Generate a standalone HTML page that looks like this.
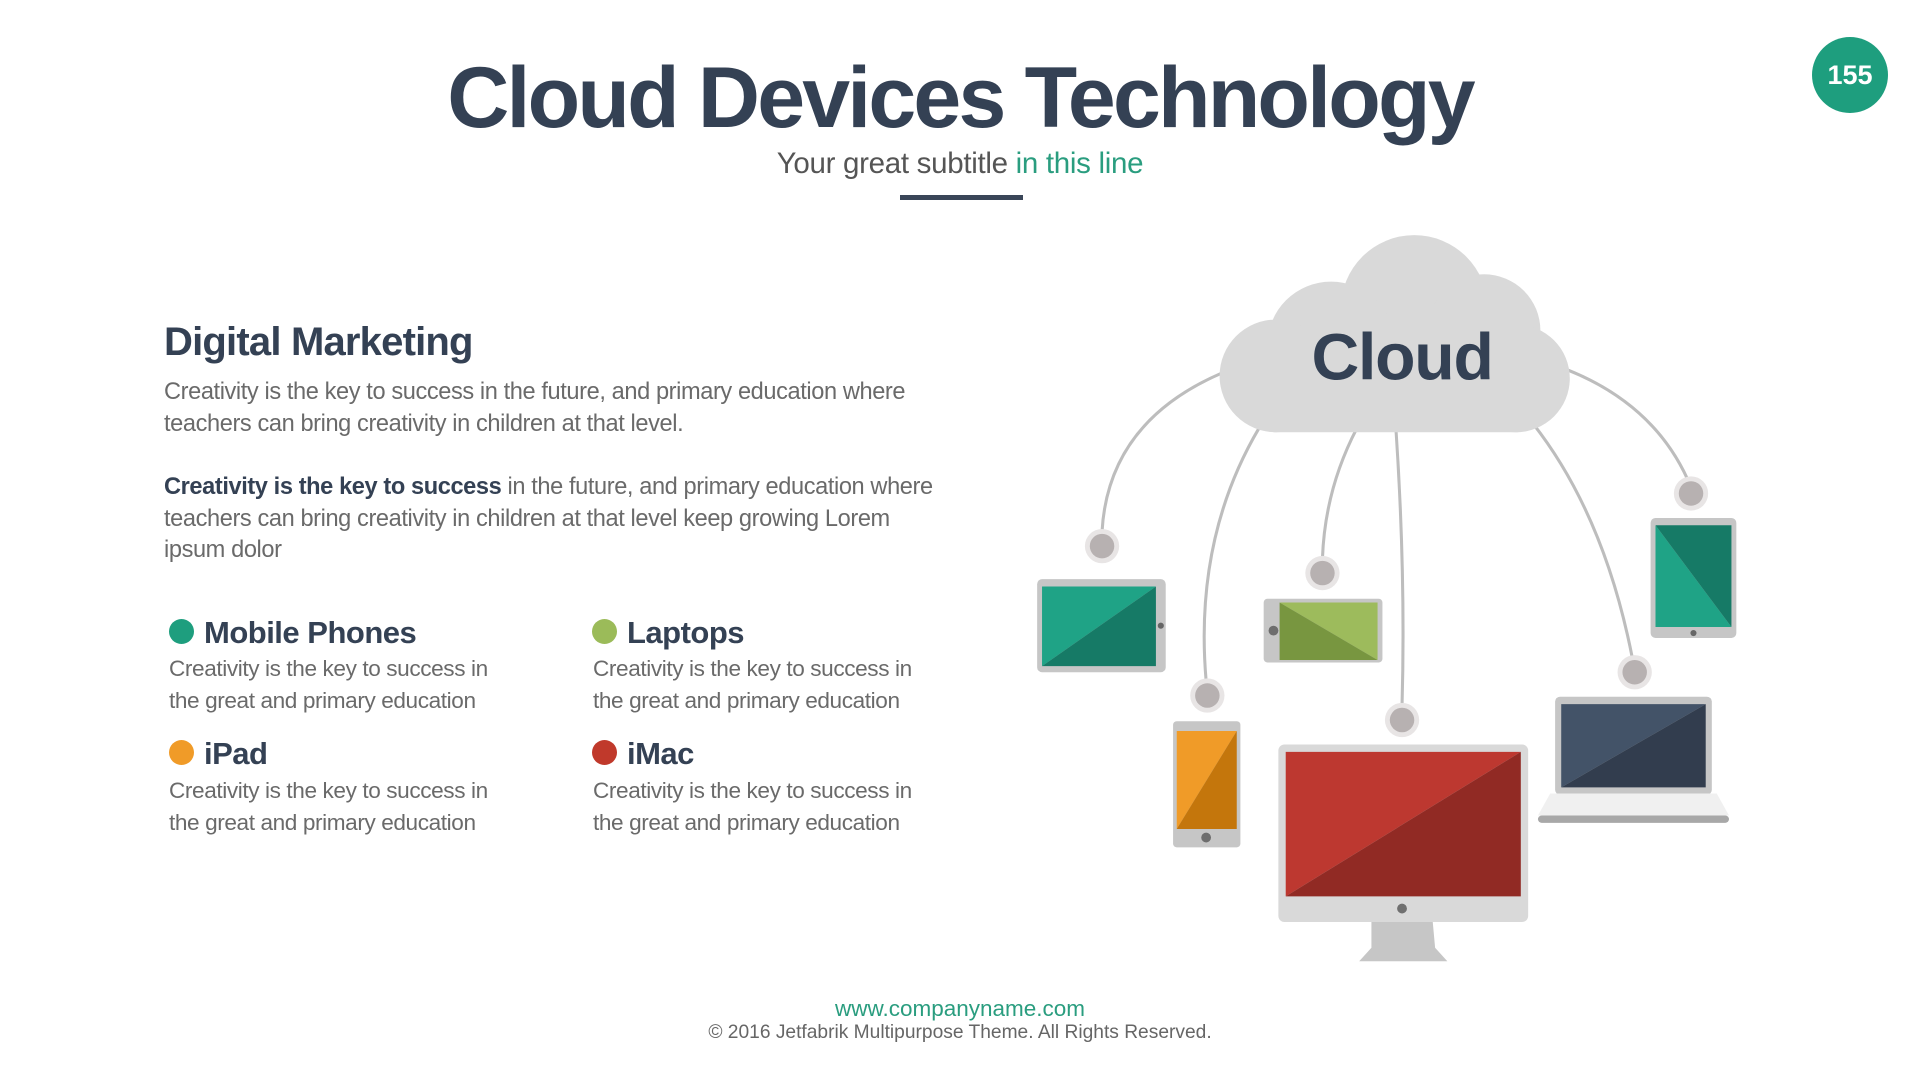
<!DOCTYPE html>
<html><head><meta charset="utf-8"><style>
html,body{margin:0;padding:0;background:#fff;}
body{width:1920px;height:1080px;position:relative;overflow:hidden;font-family:"Liberation Sans",sans-serif;}
.a{position:absolute;white-space:nowrap;}
.t{color:#6a6a6a;font-size:22.6px;line-height:31.5px;letter-spacing:-0.4px;}
.h{color:#344154;font-weight:bold;font-size:31px;letter-spacing:-0.5px;}
.dot{position:absolute;width:25px;height:25px;border-radius:50%;}
</style></head><body>
<div class="a" style="left:0;width:1920px;top:48px;text-align:center;font-size:86px;font-weight:bold;color:#344154;letter-spacing:-2.8px;line-height:100px;">Cloud Devices Technology</div>
<div class="a" style="left:0;width:1920px;top:146px;text-align:center;font-size:29.5px;color:#555;line-height:36px;letter-spacing:-0.3px;">Your great subtitle <span style="color:#2a9d7f">in this line</span></div>
<div class="a" style="left:900px;top:195px;width:123px;height:5px;background:#3a4658;"></div>
<div class="a" style="left:1812px;top:37px;width:76px;height:76px;border-radius:50%;background:#1e9e7e;color:#fff;font-weight:bold;font-size:27px;line-height:76px;text-align:center;">155</div>

<div class="a" style="left:164px;top:319px;font-size:40px;font-weight:bold;color:#344154;letter-spacing:-0.8px;line-height:46px;">Digital Marketing</div>
<div class="a t" style="left:164px;top:377px;font-size:23.6px;line-height:31.5px;">Creativity is the key to success in the future, and primary education where<br>teachers can bring creativity in children at that level.</div>
<div class="a t" style="left:164px;top:472px;font-size:23.6px;line-height:31.5px;"><b style="color:#344154">Creativity is the key to success</b> in the future, and primary education where<br>teachers can bring creativity in children at that level keep growing Lorem<br>ipsum dolor</div>

<div class="dot" style="left:169px;top:619px;background:#1e9e7e"></div>
<div class="a h" style="left:204px;top:615px;">Mobile Phones</div>
<div class="a t" style="left:169px;top:653px;">Creativity is the key to success in<br>the great and primary education</div>
<div class="dot" style="left:592px;top:619px;background:#9bbb59"></div>
<div class="a h" style="left:627px;top:615px;">Laptops</div>
<div class="a t" style="left:593px;top:653px;">Creativity is the key to success in<br>the great and primary education</div>
<div class="dot" style="left:169px;top:740px;background:#f09b28"></div>
<div class="a h" style="left:204px;top:736px;">iPad</div>
<div class="a t" style="left:169px;top:775px;">Creativity is the key to success in<br>the great and primary education</div>
<div class="dot" style="left:592px;top:740px;background:#c0392b"></div>
<div class="a h" style="left:627px;top:736px;">iMac</div>
<div class="a t" style="left:593px;top:775px;">Creativity is the key to success in<br>the great and primary education</div>

<div class="a" style="left:0;width:1920px;top:996px;text-align:center;font-size:22.5px;color:#2a9d7f;line-height:26px;">www.companyname.com</div>
<div class="a" style="left:0;width:1920px;top:1021px;text-align:center;font-size:19.2px;color:#666;line-height:24px;">© 2016 Jetfabrik Multipurpose Theme. All Rights Reserved.</div>

<svg class="a" style="left:0;top:0" width="1920" height="1080" viewBox="0 0 1568 882">
<g fill="none" stroke="#bdbdbd" stroke-width="2.5">
<path d="M997,305 Q905,345 900,434"/>
<path d="M1028,350 Q975,440 985,556"/>
<path d="M1108,350 Q1082,400 1080,456"/>
<path d="M1140,350 Q1148,470 1145,576"/>
<path d="M1252,346 Q1310,420 1333,537"/>
<path d="M1280,302 Q1350,330 1378,391"/>
</g>
<g fill="#d9d9d9">
<circle cx="1155" cy="252" r="60"/>
<circle cx="1087" cy="282" r="52"/>
<circle cx="1212" cy="270" r="46"/>
<circle cx="1042" cy="307" r="46"/>
<circle cx="1238" cy="309" r="44"/>
<rect x="1040" y="285" width="200" height="68" rx="0"/>
</g>
<text x="1145" y="310" text-anchor="middle" font-family="Liberation Sans,sans-serif" font-weight="bold" font-size="54" fill="#344154" letter-spacing="-1">Cloud</text>
<g>
<circle cx="900" cy="446" r="14" fill="#e8e5e5"/><circle cx="900" cy="446" r="10" fill="#b7b1b1"/>
<circle cx="986" cy="568" r="14" fill="#e8e5e5"/><circle cx="986" cy="568" r="10" fill="#b7b1b1"/>
<circle cx="1080" cy="468" r="14" fill="#e8e5e5"/><circle cx="1080" cy="468" r="10" fill="#b7b1b1"/>
<circle cx="1145" cy="588" r="14" fill="#e8e5e5"/><circle cx="1145" cy="588" r="10" fill="#b7b1b1"/>
<circle cx="1335" cy="549" r="14" fill="#e8e5e5"/><circle cx="1335" cy="549" r="10" fill="#b7b1b1"/>
<circle cx="1381" cy="403" r="14" fill="#e8e5e5"/><circle cx="1381" cy="403" r="10" fill="#b7b1b1"/>
</g>
<rect x="847" y="473" width="105" height="76" rx="4" fill="#c6c6c6"/>
<polygon points="851,479 944,479 851,544" fill="#1fa386"/>
<polygon points="944,479 944,544 851,544" fill="#167a66"/>
<circle cx="948" cy="511" r="2.5" fill="#666"/>
<rect x="958" y="589" width="55" height="103" rx="3" fill="#c6c6c6"/>
<polygon points="961,597 1010,597 961,677" fill="#f09b28"/>
<polygon points="1010,597 1010,677 961,677" fill="#c4760c"/>
<circle cx="985" cy="684" r="4" fill="#6e6e6e"/>
<rect x="1032" y="489" width="97" height="52" rx="3" fill="#c6c6c6"/>
<polygon points="1045,492 1125,492 1125,539" fill="#9dbb5c"/>
<polygon points="1045,492 1125,539 1045,539" fill="#789640"/>
<circle cx="1040" cy="515" r="4" fill="#6e6e6e"/>
<polygon points="1120,752 1170,752 1172,774 1182,785 1110,785 1120,774" fill="#c6c6c6"/>
<rect x="1044" y="608" width="204" height="145" rx="5" fill="#d9d9d9"/>
<polygon points="1050,614 1242,614 1050,732" fill="#bd3830"/>
<polygon points="1242,614 1242,732 1050,732" fill="#912a24"/>
<circle cx="1145" cy="742" r="4" fill="#707070"/>
<rect x="1270" y="569" width="128" height="80" rx="4" fill="#c6c6c6"/>
<polygon points="1275,575 1393,575 1275,643" fill="#435368"/>
<polygon points="1393,575 1393,643 1275,643" fill="#323d4e"/>
<polygon points="1266,648 1402,648 1412,666 1256,666" fill="#f0f0f0"/>
<rect x="1256" y="666" width="156" height="6" rx="3" fill="#a8a8a8"/>
<rect x="1348" y="423" width="70" height="98" rx="4" fill="#c6c6c6"/>
<polygon points="1352,429 1414,512 1352,512" fill="#1fa386"/>
<polygon points="1352,429 1414,429 1414,512" fill="#167a66"/>
<circle cx="1383" cy="517" r="2.5" fill="#666"/>
</svg>
</body></html>
